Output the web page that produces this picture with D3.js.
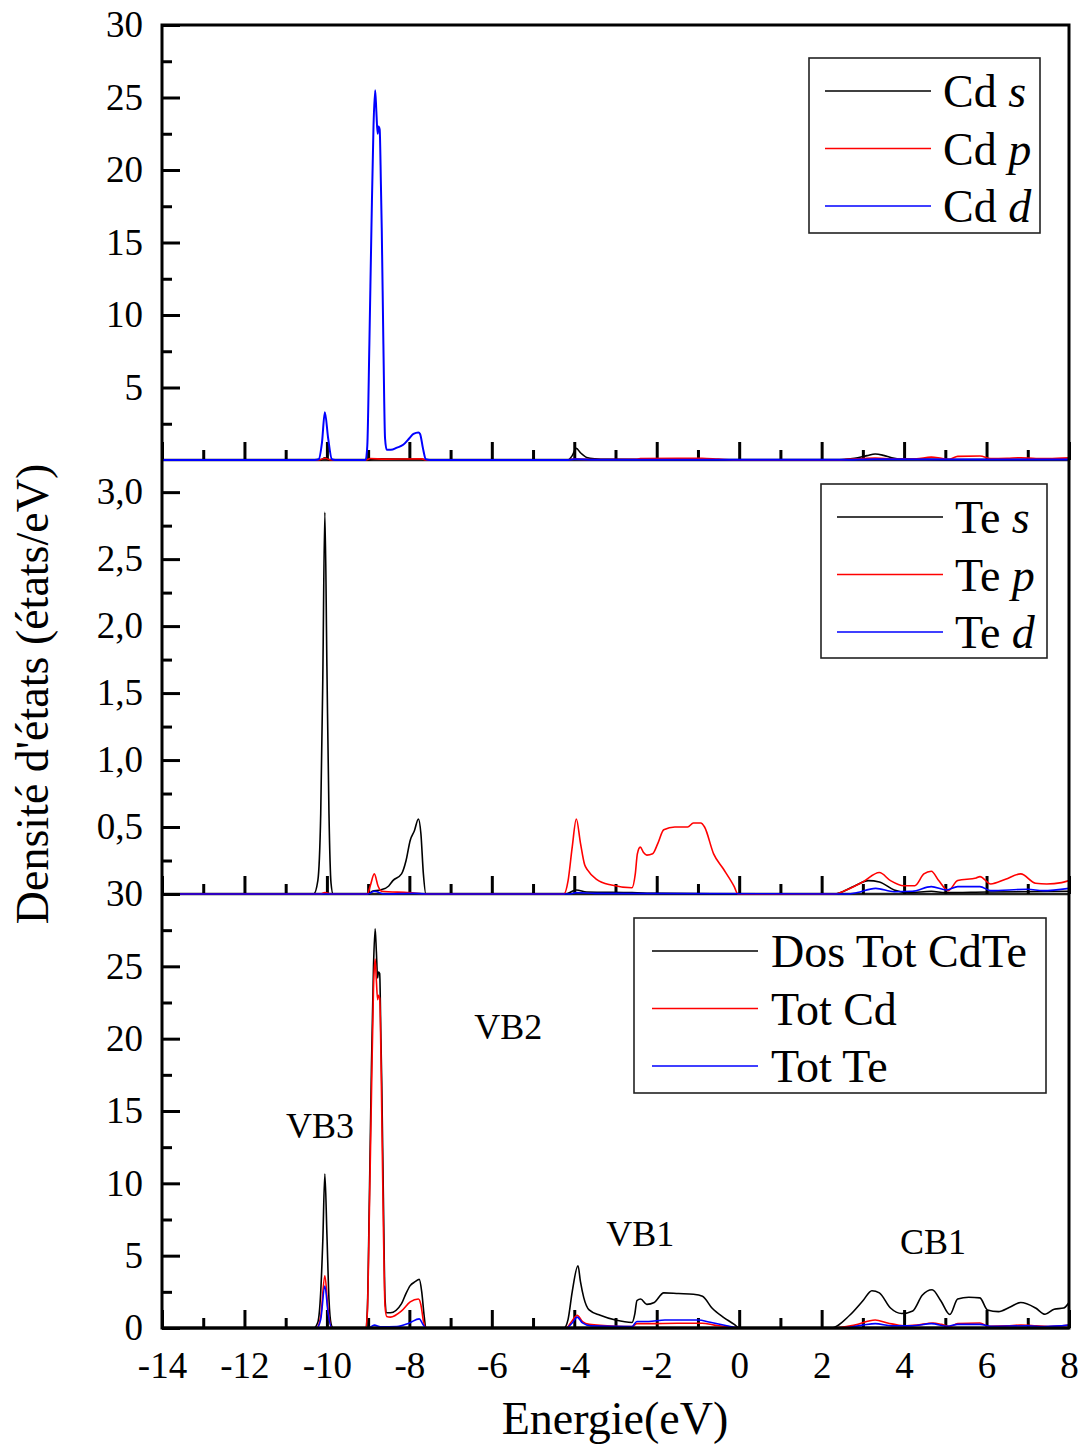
<!DOCTYPE html>
<html>
<head>
<meta charset="utf-8">
<script src="https://cdn.jsdelivr.net/npm/d3@7"></script>
<style>
body { margin: 0; background: #fff; }
svg text { font-family: "Times New Roman", "Liberation Serif", serif; fill: #000; }
</style>
</head>
<body>
<svg id="chart" width="1083" height="1450"></svg>
<script>
// tick values
const xMajor = [-14, -12, -10, -8, -6, -4, -2, 0, 2, 4, 6, 8];
const xMinor = [-13, -11, -9, -7, -5, -3, -1, 1, 3, 5, 7];
const topMajor = [5, 10, 15, 20, 25, 30];
const topMinor = [2.5, 7.5, 12.5, 17.5, 22.5, 27.5];
const midMajor = [0.5, 1.0, 1.5, 2.0, 2.5, 3.0];
const midMinor = [0.25, 0.75, 1.25, 1.75, 2.25, 2.75];
const botMajor = [0, 5, 10, 15, 20, 25, 30];
const botMinor = [2.5, 7.5, 12.5, 17.5, 22.5, 27.5];

// Cd partial DOS [energy eV, states/eV]
const cdS = [[-14,0],[-10.15,0],[-10.05,0.15],[-9.95,0],[-9.0,0],[-8.85,0.08],[-7.7,0.05],[-7.6,0],[-4.15,0],[-4.05,0.3],[-3.95,0.8],[-3.85,0.5],[-3.7,0.18],[-3.5,0.08],[-3.2,0.04],[-2.5,0.03],[0,0],[2.3,0],[2.8,0.12],[3.1,0.3],[3.3,0.41],[3.5,0.32],[3.7,0.16],[4.0,0.05],[4.5,0.05],[5,0.02],[8,0.04]];
const cdP = [[-14,0],[-10.2,0],[-10.05,0.12],[-9.9,0],[-9.05,0],[-8.95,0.1],[-8.6,0.06],[-7.7,0.08],[-7.6,0],[-4.2,0],[-4.0,0.06],[-3.5,0.03],[-2.5,0.05],[-2.4,0.1],[-1.5,0.12],[-0.9,0.12],[-0.5,0.06],[0,0],[2.3,0],[3.0,0.1],[3.3,0.14],[3.7,0.08],[4.0,0.06],[4.3,0.08],[4.66,0.2],[4.9,0.12],[5.1,0.05],[5.3,0.25],[5.84,0.28],[6.1,0.1],[6.5,0.12],[6.83,0.16],[7.2,0.1],[7.5,0.1],[8,0.15]];
const cdD = [[-14,0],[-10.3,0],[-10.2,0.05],[-10.12,1.2],[-10.05,3.3],[-9.97,1.5],[-9.88,0.05],[-9.8,0],[-9.06,0],[-9.02,1],[-8.97,8],[-8.92,16],[-8.87,23],[-8.83,25.5],[-8.80,24],[-8.77,22.5],[-8.75,23],[-8.72,22.8],[-8.69,19],[-8.67,16],[-8.63,8],[-8.59,1.5],[-8.55,0.7],[-8.45,0.7],[-8.3,0.85],[-8.15,1.05],[-8.0,1.5],[-7.9,1.8],[-7.78,1.9],[-7.74,1.8],[-7.67,0.8],[-7.6,0.05],[-7.5,0],[-4.2,0],[-4.0,0.05],[-3.5,0.02],[2.5,0.01],[3.3,0.05],[8,0.03]];

// Te partial DOS
const teS = [[-14,0],[-10.32,0],[-10.22,0.1],[-10.15,0.6],[-10.1,1.6],[-10.05,2.85],[-10.0,1.7],[-9.95,0.6],[-9.9,0.08],[-9.85,0],[-8.98,0],[-8.9,0.02],[-8.7,0.03],[-8.5,0.06],[-8.4,0.1],[-8.19,0.15],[-8.08,0.25],[-7.98,0.40],[-7.88,0.47],[-7.78,0.56],[-7.72,0.45],[-7.66,0.15],[-7.6,0],[-4.2,0],[-4.05,0.02],[-3.95,0.03],[-3.7,0.015],[-2.6,0.01],[-2.0,0.005],[0,0],[2.3,0],[2.8,0.06],[3.13,0.1],[3.4,0.09],[3.76,0.03],[4.12,0.01],[4.66,0.02],[5.0,0.01],[6,0.015],[8,0.02]];
const teP = [[-14,0],[-10.15,0],[-10.05,0.01],[-9.9,0],[-9.02,0],[-8.95,0.06],[-8.85,0.15],[-8.76,0.06],[-8.67,0.02],[-8.0,0.01],[-7.6,0],[-4.25,0],[-4.15,0.1],[-4.05,0.35],[-3.95,0.56],[-3.85,0.38],[-3.75,0.22],[-3.68,0.18],[-3.46,0.11],[-3.1,0.067],[-2.6,0.047],[-2.52,0.15],[-2.47,0.30],[-2.4,0.35],[-2.32,0.31],[-2.24,0.29],[-2.1,0.30],[-1.97,0.38],[-1.83,0.48],[-1.56,0.50],[-1.25,0.50],[-1.11,0.53],[-0.93,0.53],[-0.84,0.50],[-0.62,0.30],[-0.39,0.19],[-0.12,0.055],[-0.03,0],[2.32,0],[2.6,0.03],[3.0,0.09],[3.4,0.16],[3.67,0.10],[3.99,0.062],[4.26,0.062],[4.48,0.15],[4.66,0.17],[4.84,0.10],[5.07,0.025],[5.3,0.10],[5.75,0.12],[5.84,0.13],[6.1,0.075],[6.46,0.11],[6.83,0.15],[7.19,0.08],[7.46,0.075],[7.82,0.085],[8,0.10]];
const teD = [[-14,0],[-9.0,0],[-8.85,0.02],[-8.6,0],[-7.9,0.005],[-7.6,0],[-4.1,0],[-3.95,0.01],[-3.5,0.005],[2.6,0],[2.77,0.005],[3.31,0.042],[3.76,0.017],[4.2,0.02],[4.66,0.055],[5.03,0.03],[5.3,0.055],[5.84,0.055],[6.1,0.025],[7.0,0.035],[7.37,0.025],[8,0.042]];

// total DOS
const dosTot = [[-14,0],[-10.32,0],[-10.22,0.4],[-10.15,2.5],[-10.1,6],[-10.05,10.65],[-10.0,6.5],[-9.95,2],[-9.9,0.3],[-9.85,0],[-9.06,0],[-9.02,1.2],[-8.97,9],[-8.92,18],[-8.87,25],[-8.83,27.6],[-8.80,26],[-8.77,24.2],[-8.75,24.6],[-8.72,24.5],[-8.69,20],[-8.67,17],[-8.63,9],[-8.59,2],[-8.55,1.05],[-8.46,1.05],[-8.19,1.68],[-8.08,2.4],[-7.98,2.93],[-7.86,3.2],[-7.76,3.36],[-7.7,2.5],[-7.64,0.8],[-7.6,0],[-4.25,0],[-4.15,0.6],[-4.05,2.5],[-3.91,4.3],[-3.85,3.2],[-3.77,2.1],[-3.64,1.25],[-3.37,0.88],[-3.0,0.55],[-2.6,0.38],[-2.53,1.0],[-2.48,1.9],[-2.39,2.0],[-2.24,1.63],[-2.06,1.76],[-1.83,2.43],[-1.47,2.38],[-1.11,2.33],[-0.89,2.2],[-0.66,1.38],[-0.39,0.75],[-0.12,0.25],[0,0],[2.23,0],[2.68,0.88],[3.0,1.88],[3.22,2.58],[3.4,2.43],[3.67,1.38],[3.94,1.0],[4.21,1.18],[4.44,2.26],[4.68,2.64],[4.89,1.88],[5.11,0.93],[5.3,2.0],[5.57,2.13],[5.84,2.08],[6.02,1.25],[6.29,1.13],[6.56,1.43],[6.83,1.76],[7.19,1.38],[7.42,0.95],[7.64,1.3],[7.87,1.38],[8,1.76]];
const totCd = [[-14,0],[-10.25,0],[-10.15,0.8],[-10.05,3.6],[-9.97,1.2],[-9.88,0],[-9.06,0],[-9.02,1],[-8.97,8],[-8.92,16],[-8.87,23.5],[-8.83,25.5],[-8.80,24],[-8.77,22.7],[-8.75,23.0],[-8.72,22.8],[-8.69,19],[-8.67,15],[-8.63,7],[-8.59,1.5],[-8.55,0.8],[-8.46,0.75],[-8.19,1.18],[-7.98,1.8],[-7.78,2.0],[-7.72,1.6],[-7.66,0.5],[-7.6,0],[-4.2,0],[-4.05,0.5],[-3.93,0.88],[-3.8,0.45],[-3.64,0.25],[-3.0,0.12],[-2.6,0.1],[-2.48,0.3],[-2.2,0.3],[-1.5,0.33],[-0.9,0.33],[-0.6,0.2],[-0.3,0.08],[0,0],[2.3,0],[2.8,0.2],[3.3,0.55],[3.6,0.35],[4.0,0.15],[4.3,0.2],[4.7,0.35],[4.9,0.25],[5.1,0.1],[5.3,0.3],[5.84,0.35],[6.05,0.12],[6.5,0.15],[6.83,0.2],[7.2,0.15],[7.5,0.1],[8,0.2]];
const totTe = [[-14,0],[-10.25,0],[-10.15,0.6],[-10.05,2.9],[-9.97,1.0],[-9.88,0],[-9.0,0],[-8.85,0.2],[-8.7,0.08],[-8.3,0.1],[-8.0,0.35],[-7.76,0.63],[-7.68,0.3],[-7.6,0],[-4.2,0],[-4.05,0.35],[-3.93,0.75],[-3.8,0.35],[-3.6,0.15],[-2.6,0.1],[-2.48,0.45],[-2.2,0.45],[-1.8,0.55],[-1.0,0.55],[-0.7,0.4],[-0.3,0.15],[0,0],[2.5,0],[3.0,0.2],[3.3,0.3],[3.7,0.15],[4.2,0.15],[4.66,0.3],[5.05,0.12],[5.3,0.25],[5.84,0.25],[6.1,0.12],[7.0,0.15],[7.4,0.1],[8,0.2]];

const bandLabels = [["VB3", -10.17, 13.1], ["VB2", -5.6, 20.0], ["VB1", -2.4, 5.7], ["CB1", 4.7, 5.1]];

const left = 162, right = 1069;
const svg = d3.select("#chart");
const x = d3.scaleLinear().domain([-14, 8]).range([left, right]);

const panels = [
  {y0: 25, y1: 460, domain: [0, 30], major: topMajor, minor: topMinor, fmt: d => String(d),
   series: [[cdS, "#000"], [cdP, "#f00"], [cdD, "#00f"]],
   legend: {x: 809, y: 58, w: 231, h: 175, lx: 825, tx: 943, names: [["Cd ", "s"], ["Cd ", "p"], ["Cd ", "d"]]}},
  {y0: 460, y1: 894, domain: [0, 3.24], major: midMajor, minor: midMinor, fmt: d => d.toFixed(1).replace(".", ","),
   series: [[teS, "#000"], [teP, "#f00"], [teD, "#00f"]],
   legend: {x: 821, y: 484, w: 226, h: 174, lx: 837, tx: 955, names: [["Te ", "s"], ["Te ", "p"], ["Te ", "d"]]}},
  {y0: 894, y1: 1328, domain: [0, 30], major: botMajor, minor: botMinor, fmt: d => String(d),
   series: [[dosTot, "#000"], [totCd, "#f00"], [totTe, "#00f"]],
   legend: {x: 634, y: 918, w: 412, h: 175, lx: 652, tx: 771, names: [["Dos Tot CdTe", ""], ["Tot Cd", ""], ["Tot Te", ""]]}}
];

const colors = ["#000", "#f00", "#00f"];

panels.forEach((p, i) => {
  const y = d3.scaleLinear().domain(p.domain).range([p.y1, p.y0]);

  svg.append("clipPath").attr("id", "clip" + i)
    .append("rect").attr("x", left).attr("y", p.y0).attr("width", right - left).attr("height", p.y1 - p.y0 + 1);

  // panel bottom line
  svg.append("line").attr("x1", left).attr("x2", right).attr("y1", p.y1).attr("y2", p.y1)
    .attr("stroke", "#222").attr("stroke-width", i === 2 ? 3 : 2.5);

  // x ticks, pointing up
  const gx = svg.append("g").attr("transform", `translate(0,${p.y1})`);
  gx.call(d3.axisBottom(x).tickValues(xMajor).tickSize(-18).tickPadding(24)
      .tickFormat(i === 2 ? d => String(d) : () => ""));
  gx.append("g").call(d3.axisBottom(x).tickValues(xMinor).tickSize(-10).tickFormat(() => ""));
  gx.selectAll(".domain").remove();
  gx.selectAll(".tick line").attr("stroke", "#000").attr("stroke-width", 3);
  gx.selectAll("text").style("font-size", "37px").attr("fill", "#000")
    .style("font-family", '"Times New Roman","Liberation Serif",serif');

  // y ticks, pointing right
  const gy = svg.append("g").attr("transform", `translate(${left},0)`);
  gy.call(d3.axisLeft(y).tickValues(p.major).tickSize(-18).tickPadding(19).tickFormat(p.fmt));
  gy.append("g").call(d3.axisLeft(y).tickValues(p.minor).tickSize(-10).tickFormat(() => ""));
  gy.selectAll(".domain").remove();
  gy.selectAll(".tick line").attr("stroke", "#000").attr("stroke-width", 3);
  gy.selectAll("text").style("font-size", "37px").attr("fill", "#000")
    .style("font-family", '"Times New Roman","Liberation Serif",serif');

  // curves
  const line = d3.line().x(d => x(d[0])).y(d => y(d[1])).curve(d3.curveMonotoneX);
  p.series.forEach(([data, c]) => {
    svg.append("path").datum(data)
      .attr("clip-path", `url(#clip${i})`)
      .attr("d", line)
      .attr("fill", "none")
      .attr("stroke", c)
      .attr("stroke-width", c === "#00f" && i === 0 ? 2 : 1.6)
      .attr("stroke-linejoin", "round");
  });

  // legend
  const L = p.legend;
  const lg = svg.append("g");
  lg.append("rect").attr("x", L.x).attr("y", L.y).attr("width", L.w).attr("height", L.h)
    .attr("fill", "#fff").attr("stroke", "#222").attr("stroke-width", 1.6);
  L.names.forEach((nm, k) => {
    const ly = L.y + 33 + k * 57.5;
    lg.append("line").attr("x1", L.lx).attr("x2", L.lx + 106).attr("y1", ly).attr("y2", ly)
      .attr("stroke", colors[k]).attr("stroke-width", 1.6);
    const t = lg.append("text").attr("x", L.tx).attr("y", ly).attr("dy", "0.35em").style("font-size", "46px");
    t.append("tspan").text(nm[0]);
    if (nm[1]) t.append("tspan").style("font-style", "italic").text(nm[1]);
  });

  if (i === 2) {
    svg.selectAll(".band").data(bandLabels).enter().append("text")
      .attr("class", "band")
      .attr("x", d => x(d[1]))
      .attr("y", d => y(d[2]))
      .attr("text-anchor", "middle")
      .style("font-size", "36px")
      .text(d => d[0]);
  }
});

// frame
svg.append("path")
  .attr("d", `M${left},25H${right}V1328H${left}Z`)
  .attr("fill", "none").attr("stroke", "#000").attr("stroke-width", 3);

// axis titles
svg.append("text").attr("x", 615).attr("y", 1434).attr("text-anchor", "middle")
  .style("font-size", "46px").text("Energie(eV)");
svg.append("text").attr("transform", "translate(48,694) rotate(-90)").attr("text-anchor", "middle")
  .style("font-size", "46px").text("Densité d'états (états/eV)");
</script>
</body>
</html>
